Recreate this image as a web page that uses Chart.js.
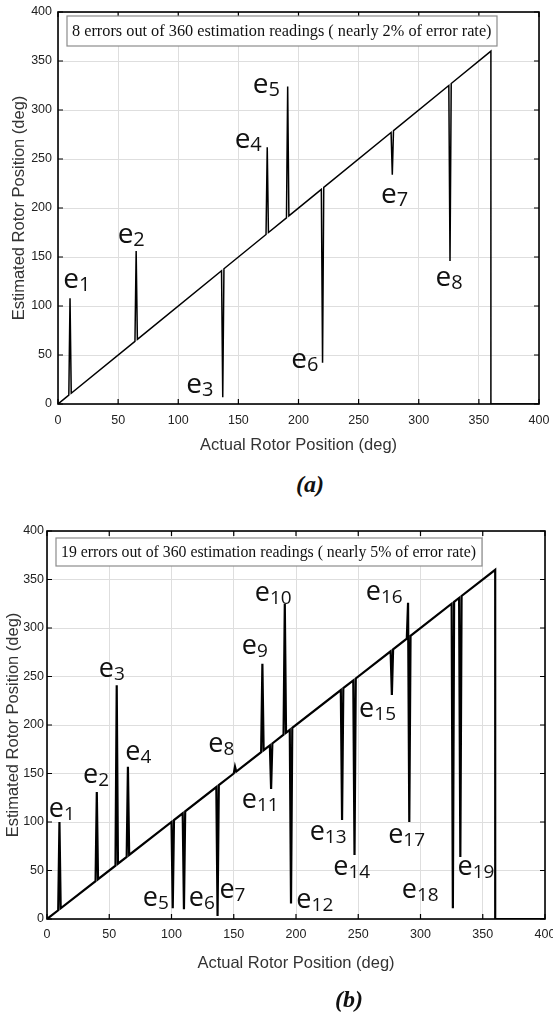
<!DOCTYPE html>
<html>
<head>
<meta charset="utf-8">
<script src="https://cdn.jsdelivr.net/npm/chart.js@4.4.0/dist/chart.umd.min.js"></script>
<style>
  body { margin: 0; background: #fff; width: 553px; height: 1012px; position: relative; overflow: hidden; }
  .wrap { position: absolute; left: 0; width: 553px; }
  .cap { position: absolute; font: italic bold 24px "Liberation Serif", serif; transform: translate(-50%, -50%); color: #111; }
</style>
</head>
<body>
<div class="wrap" style="top:0"><canvas id="chartA" width="553" height="470"></canvas></div>
<div class="cap" style="left:310px; top:484px">(a)</div>
<div class="wrap" style="top:520px"><canvas id="chartB" width="553" height="470"></canvas></div>
<div class="cap" style="left:349px; top:999px">(b)</div>
<script>
const tickVals = [0, 50, 100, 150, 200, 250, 300, 350, 400];
const xTitle = 'Actual Rotor Position (deg)';
const yTitle = 'Estimated Rotor Position (deg)';

// (a) 8 errors
const xA = [0, 9, 10, 11, 64, 65, 66, 136, 137, 138, 173, 174, 175, 190, 191, 192,
            219, 220, 221, 277, 278, 279, 325, 326, 327, 360, 360, 400];
const yA = [0, 9, 108, 11, 64, 156, 66, 136, 7, 138, 173, 262, 175, 190, 324, 192,
            219, 42, 221, 277, 234, 279, 325, 146, 327, 360, 0, 0];
const labAx = [4.4, 49.6, 106.6, 146.9, 162, 194, 268.6, 313.9];
const labAy = [118, 164, 11, 261, 317.6, 36.5, 204.6, 120.6];
const noteA = '8 errors out of 360 estimation readings ( nearly 2% of error rate)';

// (b) 19 errors
const xB = [0, 9, 10, 11, 39, 40, 41, 55, 56, 57, 64, 65, 66, 100, 101, 102,
            109, 110, 111, 136, 137, 138, 150, 151, 152, 172, 173, 174, 179, 180, 181,
            190, 191, 192, 195, 196, 197, 236, 237, 238, 246, 247, 248, 276, 277, 278,
            289, 290, 291, 292, 325, 326, 327, 331, 332, 333, 360, 360, 400];
const yB = [0, 9, 100, 11, 39, 131, 41, 55, 241, 57, 64, 157, 66, 100, 11, 102,
            109, 10, 111, 136, 3, 138, 150, 157, 152, 172, 263, 174, 179, 134, 181,
            190, 325, 192, 195, 16, 197, 236, 102, 238, 246, 66, 248, 276, 231, 278,
            289, 326, 100, 292, 325, 11, 327, 331, 64, 333, 360, 0, 0];
const labBx = [1.4, 28.9, 41.6, 62.9, 77, 113.9, 138.5, 129.5, 156.4, 166.9,
               156.4, 200.3, 211, 230, 250.7, 256, 274, 285, 329.7];
const labBy = [105.5, 139.7, 249.3, 163.7, 13, 13, 21.6, 172, 273, 327.6,
               114, 11.3, 81.5, 45.5, 208, 329, 78, 21.6, 45.5];
const noteB = '19 errors out of 360 estimation readings ( nearly 5% of error rate)';

const axisFont = '"Liberation Sans", Arial, sans-serif';

// frame with inward ticks, MATLAB style
const frame = {
  id: 'frame',
  afterDatasetsDraw(chart) {
    const {ctx, chartArea: a, scales: {x, y}} = chart;
    ctx.save();
    ctx.strokeStyle = '#000';
    ctx.lineWidth = 1.2;
    ctx.beginPath();
    x.ticks.forEach(t => {
      const px = x.getPixelForValue(t.value);
      ctx.moveTo(px, a.bottom); ctx.lineTo(px, a.bottom - 5);
      ctx.moveTo(px, a.top); ctx.lineTo(px, a.top + 5);
    });
    y.ticks.forEach(t => {
      const py = y.getPixelForValue(t.value);
      ctx.moveTo(a.left, py); ctx.lineTo(a.left + 5, py);
      ctx.moveTo(a.right, py); ctx.lineTo(a.right - 5, py);
    });
    ctx.stroke();
    ctx.lineWidth = 1.6;
    ctx.strokeRect(a.left, a.top, a.right - a.left, a.bottom - a.top);
    ctx.restore();
  }
};

// text box + e_n labels
const notes = {
  id: 'notes',
  afterDatasetsDraw(chart, args, o) {
    const {ctx, chartArea: a, scales: {x, y}} = chart;
    ctx.save();
    ctx.fillStyle = '#fff';
    ctx.fillRect(a.left + o.box[0], a.top + o.box[1], o.box[2], o.box[3]);
    ctx.strokeStyle = '#8c8c8c';
    ctx.lineWidth = 1.2;
    ctx.strokeRect(a.left + o.box[0], a.top + o.box[1], o.box[2], o.box[3]);
    ctx.fillStyle = '#111';
    ctx.font = o.noteSize + 'px "Liberation Serif", serif';
    ctx.textBaseline = 'middle';
    ctx.fillText(o.text, a.left + o.box[0] + 5, a.top + o.box[1] + o.box[3] / 2 + 1);

    ctx.textBaseline = 'alphabetic';
    o.lx.forEach((lx, i) => {
      const px = x.getPixelForValue(lx);
      const py = y.getPixelForValue(o.ly[i]);
      ctx.font = o.eSize + 'px "Open Sans", sans-serif';
      ctx.fillText('e', px, py);
      const w = ctx.measureText('e').width;
      ctx.font = o.subSize + 'px "Open Sans", sans-serif';
      ctx.fillText(String(i + 1), px + w, py + 3);
    });
    ctx.restore();
  }
};

function makeChart(id, xs, ys, lx, ly, note, s) {
  const pts = xs.map((v, i) => ({x: v, y: ys[i]}));
  return new Chart(document.getElementById(id), {
    type: 'line',
    data: {
      datasets: [{
        data: pts,
        borderColor: '#000',
        borderWidth: s.lineW,
        pointRadius: 0,
        tension: 0,
        fill: false
      }]
    },
    options: {
      responsive: false,
      animation: false,
      layout: {padding: {top: s.padTop, right: s.padRight, left: 0, bottom: 0}},
      plugins: {
        legend: {display: false},
        tooltip: {enabled: false},
        notes: {box: s.box, text: note, noteSize: s.noteSize, lx: lx, ly: ly,
                eSize: s.eSize, subSize: s.subSize}
      },
      scales: {
        x: {
          type: 'linear', min: 0, max: 400,
          afterBuildTicks: sc => { sc.ticks = tickVals.map(v => ({value: v})); },
          afterFit: sc => { sc.height = s.xAxisH; sc.paddingLeft = 0; sc.paddingRight = 0; },
          ticks: {padding: s.xTickPad, color: '#222', font: {family: axisFont, size: 12.5}},
          grid: {color: '#dedede', drawTicks: false},
          border: {display: false},
          title: {display: true, text: xTitle, color: '#333',
                  font: {family: axisFont, size: 16.5}, padding: {top: 0, bottom: s.xTitlePad}}
        },
        y: {
          type: 'linear', min: 0, max: 400,
          afterBuildTicks: sc => { sc.ticks = tickVals.map(v => ({value: v})); },
          afterFit: sc => { sc.width = s.yAxisW; sc.paddingTop = 0; sc.paddingBottom = 0; },
          ticks: {padding: s.yTickPad, color: '#222', font: {family: axisFont, size: 12.5}},
          grid: {color: '#dedede', drawTicks: false},
          border: {display: false},
          title: {display: true, text: yTitle, color: '#333',
                  font: {family: axisFont, size: 16.5}, padding: {top: s.yTitlePad, bottom: 0}}
        }
      }
    },
    plugins: [frame, notes]
  });
}

makeChart('chartA', xA, yA, labAx, labAy, noteA, {
  lineW: 1.5, padTop: 12, padRight: 14, xAxisH: 66, yAxisW: 58,
  xTickPad: 9, yTickPad: 6, xTitlePad: 15, yTitlePad: 10,
  box: [9, 4, 430, 30], noteSize: 16.3, eSize: 28, subSize: 20
});
makeChart('chartB', xB, yB, labBx, labBy, noteB, {
  lineW: 2.2, padTop: 11, padRight: 8, xAxisH: 71, yAxisW: 47,
  xTickPad: 8, yTickPad: 3, xTitlePad: 17, yTitlePad: 4,
  box: [9, 7, 426, 28], noteSize: 15.8, eSize: 27, subSize: 19
});
</script>
</body>
</html>
